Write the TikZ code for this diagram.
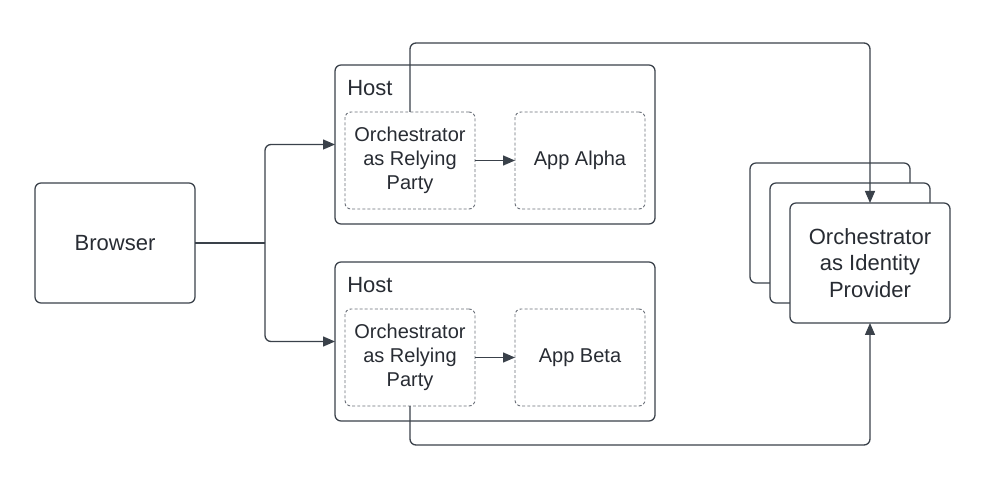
\documentclass[tikz,border=0pt]{standalone}
\usepackage{fontspec}
\setmainfont{Liberation Sans}
\usetikzlibrary{arrows.meta}
\definecolor{ln}{HTML}{3A414A}
\definecolor{tx}{HTML}{282C33}
\definecolor{dsh}{HTML}{6B7079}
\tikzset{
  box/.style={draw=ln, line width=0.95pt, rounded corners=4.5pt, fill=white, inner sep=0pt, outer sep=0pt, anchor=north west, text=tx, font=\fontsize{16.5}{19.8}\selectfont, align=center},
  dbox/.style={draw=dsh, line width=0.7pt, dash pattern=on 2.2pt off 1.6pt, rounded corners=4.5pt, inner sep=0pt, outer sep=0pt, anchor=north west, text=tx, font=\fontsize{15}{18}\selectfont, align=center},
  conn/.style={draw=ln, line width=1pt, rounded corners=4.5pt, -{Triangle[length=9pt,width=7.5pt]}},
  plain/.style={draw=ln, line width=1pt, rounded corners=4.5pt},
  lbl/.style={text=tx, font=\fontsize{16.5}{19.8}\selectfont, inner sep=0pt, anchor=north west}
}
\begin{document}
\begin{tikzpicture}[x=0.75pt,y=-0.75pt]
\useasboundingbox (0,0) rectangle (1007,495);
% Browser
\node[box, minimum width=160*0.75pt, minimum height=120*0.75pt] (browser) at (35,183) {Browser};
% Hosts
\node[box, minimum width=320*0.75pt, minimum height=159*0.75pt] (host1) at (335,65) {};
\node[lbl] (hl1) at (347,80) {Host};
\node[dbox, minimum width=130*0.75pt, minimum height=97*0.75pt] (orp1) at (345,112) {Orchestrator\\as Relying\\Party};
\node[dbox, minimum width=130*0.75pt, minimum height=97*0.75pt] (app1) at (515,112) {App Alpha};
\node[box, minimum width=320*0.75pt, minimum height=159*0.75pt] (host2) at (335,262) {};
\node[lbl] (hl2) at (347,277) {Host};
\node[dbox, minimum width=130*0.75pt, minimum height=97*0.75pt] (orp2) at (345,309) {Orchestrator\\as Relying\\Party};
\node[dbox, minimum width=130*0.75pt, minimum height=97*0.75pt] (app2) at (515,309) {App Beta};
% IdP stack
\node[box, minimum width=160*0.75pt, minimum height=120*0.75pt] (idpa) at (750,163) {};
\node[box, minimum width=160*0.75pt, minimum height=120*0.75pt] (idpb) at (770,183) {};
\node[box, minimum width=160*0.75pt, minimum height=120*0.75pt] (idp) at (790,203) {Orchestrator\\as Identity\\Provider};
% connectors
\coordinate (j) at (265,243);
\draw[plain] (browser.east) -- (j);
\draw[conn] (j) |- (host1.west);
\draw[conn] (j) |- (host2.west);
\draw[conn] (orp1.east) -- (app1.west);
\draw[conn] (orp2.east) -- (app2.west);
\coordinate (t) at (410,43);
\coordinate (b) at (410,445);
\draw[conn] (orp1.north) -- (t) -| (idp.north);
\draw[conn] (orp2.south) -- (b) -| (idp.south);
\end{tikzpicture}
\end{document}
